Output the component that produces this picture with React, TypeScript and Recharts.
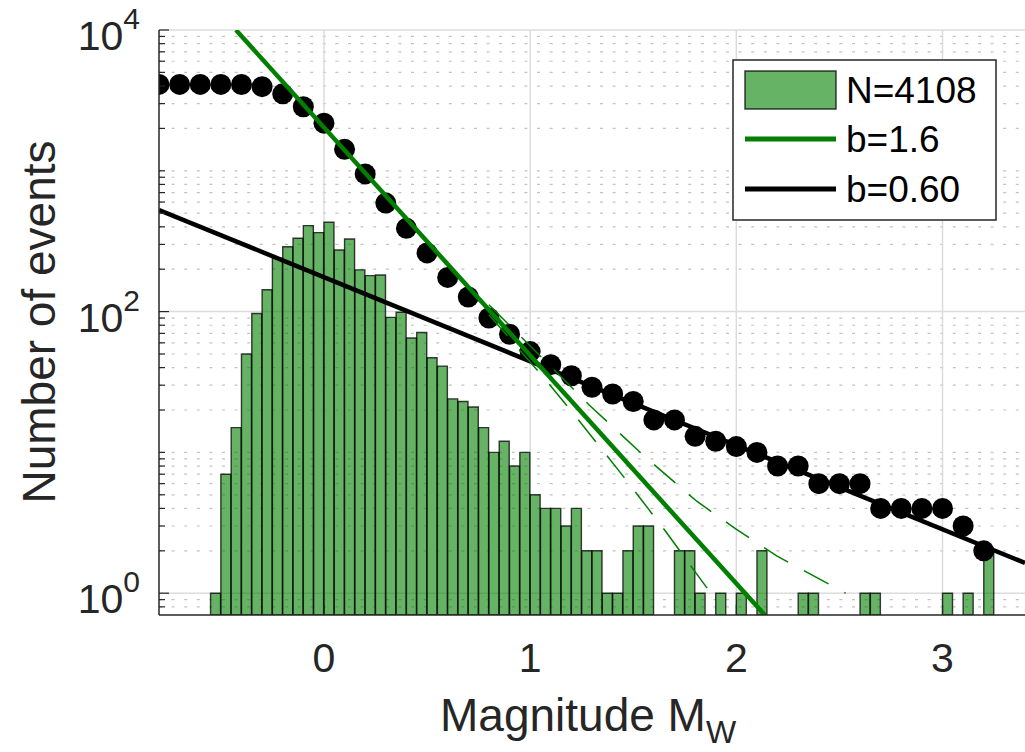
import React from 'react';
import { ComposedChart, Bar, Line, Scatter, XAxis, YAxis, ReferenceLine } from 'recharts';

// ---------- data ----------
const BIN_START = -0.8; // left edge of first histogram bin (= left edge of axis)
const BIN_WIDTH = 0.05;
const BIN_COUNTS = [
  0, 0, 0, 0, 0,
  1, 7, 15, 50, 97, 143, 239, 289, 332, 408, 364, 431, 274, 328, 198, 180, 182, 91, 99, 65,
  71, 47, 41, 24, 23, 21, 15, 10, 12, 8, 10, 5, 4, 4, 3, 4, 2, 2, 1, 1, 2, 3, 3,
  0, 0, 2, 2, 1, 0, 1, 0, 1, 0, 2, 0, 0, 0, 1, 1, 0, 0, 0, 0, 1, 1, 0, 0, 0, 0, 0, 0, 1, 0, 1, 0, 2, 0, 0, 0,
];

const CUM_M = [
  -0.8, -0.7, -0.6, -0.5, -0.4, -0.3, -0.2, -0.1, 0, 0.1, 0.2, 0.3, 0.4, 0.5, 0.6, 0.7, 0.8, 0.9, 1.0,
  1.1, 1.2, 1.3, 1.4, 1.5, 1.6, 1.7, 1.8, 1.9, 2.0, 2.1, 2.2, 2.3, 2.4, 2.5, 2.6, 2.7, 2.8, 2.9, 3.0, 3.1, 3.2,
];
const CUM_N = [
  4108, 4108, 4108, 4108, 4100, 3960, 3520, 2850, 2180, 1420, 950, 590, 390, 261, 175, 127, 90, 69, 52,
  42, 35, 29, 26, 23, 17, 17, 13, 12, 11, 10, 8, 8, 6, 6, 6, 4, 4, 4, 4, 3, 2,
];

const GREEN_FIT_M = [-0.427, 2.138];
const GREEN_FIT_N = [10000, 0.7];
const BLACK_FIT_M = [-0.8, 3.4];
const BLACK_FIT_N = [527, 1.64];
const UPPER_BOUND_M = [0.8, 1.285, 1.561, 1.808, 1.997, 2.196, 2.53];
const UPPER_BOUND_N = [112, 21.8, 9.2, 4.5, 2.86, 1.84, 1.0];
const LOWER_BOUND_M = [0.8, 1.076, 1.222, 1.454, 1.653, 1.876];
const LOWER_BOUND_N = [95, 32.7, 17.9, 6.7, 2.8, 1.0];

const X_TICKS = [0, 1, 2, 3];
const X_TICK_LABELS = ['0', '1', '2', '3'];
const Y_MAJOR = [1, 100, 10000];
const Y_MAJOR_EXP = ['0', '2', '4'];
const Y_MINOR = [
  0.8, 0.9, 2, 3, 4, 5, 6, 7, 8, 9, 10, 20, 30, 40, 50, 60, 70, 80, 90,
  200, 300, 400, 500, 600, 700, 800, 900, 1000, 2000, 3000, 4000, 5000, 6000, 7000, 8000, 9000,
];
const LEGEND_LABELS = ['N=4108', 'b=1.6', 'b=0.60'];
const X_LABEL = 'Magnitude M';
const X_LABEL_SUB = 'W';
const Y_LABEL = 'Number of events';

// ---------- tables built from the arrays ----------
const binTable = BIN_COUNTS.map((c, i) => ({
  bin: (BIN_START + i * BIN_WIDTH).toFixed(2),
  n: c > 0 ? c : null,
}));
const zip = (ms: number[], ns: number[]) => ms.map((m, i) => ({ m, n: ns[i] }));
const cumData = zip(CUM_M, CUM_N);
const greenFit = zip(GREEN_FIT_M, GREEN_FIT_N);
const blackFit = zip(BLACK_FIT_M, BLACK_FIT_N);
const upperBound = zip(UPPER_BOUND_M, UPPER_BOUND_N);
const lowerBound = zip(LOWER_BOUND_M, LOWER_BOUND_N);

const FONT = '"Liberation Sans", Arial, Helvetica, sans-serif';
const AX = '#262626';
const GREEN = '#007f00';

const YTick = (props: any) => {
  const { x, y, payload } = props;
  const v = payload.value;
  const mi = Y_MAJOR.indexOf(v);
  const major = mi >= 0;
  return (
    <g>
      <line x1={x} x2={x + (major ? 10 : 6)} y1={y} y2={y} stroke={AX} strokeWidth={1.2} />
      {major && (
        <text x={x - 19} y={y + 20} textAnchor="end" fill={AX} fontFamily={FONT}>
          <tspan fontSize={41}>10</tspan>
          <tspan fontSize={30} dy={-21}>{Y_MAJOR_EXP[mi]}</tspan>
        </text>
      )}
    </g>
  );
};

const XTick = (props: any) => {
  const { x, y, payload } = props;
  const i = X_TICKS.indexOf(payload.value);
  return (
    <g>
      <line x1={x} x2={x} y1={y} y2={y - 10} stroke={AX} strokeWidth={1.2} />
      <text x={x} y={y + 57} textAnchor="middle" fill={AX} fontFamily={FONT} fontSize={41}>
        {X_TICK_LABELS[i]}
      </text>
    </g>
  );
};

const Dot = (p: any) => <circle cx={p.cx} cy={p.cy} r={10.5} fill="#000" />;

export default function App() {
  return (
    <div style={{ position: 'absolute', left: 0, top: 0, width: 1025, height: 752 }}>
      <ComposedChart
        width={1025}
        height={752}
        data={binTable}
        margin={{ top: 30, right: 0, bottom: 0, left: 0 }}
        barCategoryGap={0}
        barGap={0}
      >
        <XAxis xAxisId="bins" dataKey="bin" type="category" hide />
        <XAxis
          dataKey="m"
          type="number"
          domain={[-0.8, 3.4]}
          allowDataOverflow
          ticks={X_TICKS}
          interval={0}
          height={137}
          tickSize={0}
          tickMargin={0}
          tick={<XTick />}
          tickLine={false}
          axisLine={{ stroke: AX, strokeWidth: 1.5 }}
        />
        <YAxis
          type="number"
          scale="log"
          domain={[0.7, 10000]}
          allowDataOverflow
          ticks={[...Y_MAJOR, ...Y_MINOR]}
          interval={0}
          width={159}
          tickSize={0}
          tickMargin={0}
          tick={<YTick />}
          tickLine={false}
          axisLine={{ stroke: AX, strokeWidth: 1.5 }}
        />
        {Y_MINOR.map((v) => (
          <ReferenceLine key={'ym' + v} y={v} stroke="#c2c2c2" strokeWidth={1.2} strokeDasharray="3 9.6" zIndex={-100} />
        ))}
        {Y_MAJOR.map((v) => (
          <ReferenceLine key={'yM' + v} y={v} stroke="#dcdcdc" strokeWidth={1.5} zIndex={-100} />
        ))}
        {X_TICKS.map((v) => (
          <ReferenceLine key={'xM' + v} x={v} stroke="#dcdcdc" strokeWidth={1.5} zIndex={-100} />
        ))}
        <Bar
          xAxisId="bins"
          dataKey="n"
          fill="#008000"
          fillOpacity={0.6}
          stroke="#000"
          strokeOpacity={0.75}
          strokeWidth={1.4}
          isAnimationActive={false}
        />
        <Scatter data={cumData} dataKey="n" shape={Dot} isAnimationActive={false} zIndex={350} />
        <Line data={blackFit} dataKey="n" stroke="#000" strokeWidth={4.5} dot={false} isAnimationActive={false} />
        <Line data={upperBound} dataKey="n" stroke={GREEN} strokeWidth={1.5} strokeDasharray="28 18" dot={false} isAnimationActive={false} />
        <Line data={lowerBound} dataKey="n" stroke={GREEN} strokeWidth={1.5} strokeDasharray="28 18" dot={false} isAnimationActive={false} />
        <Line data={greenFit} dataKey="n" stroke={GREEN} strokeWidth={4.5} dot={false} isAnimationActive={false} />
      </ComposedChart>
      <svg
        width={1025}
        height={752}
        style={{ position: 'absolute', left: 0, top: 0, pointerEvents: 'none' }}
        fontFamily={FONT}
      >
        <rect x={733} y={60} width={263} height={160} fill="#fff" stroke={AX} strokeWidth={1.5} />
        <rect x={745} y={71} width={91} height={38} fill="#008000" fillOpacity={0.6} stroke="#000" strokeOpacity={0.75} strokeWidth={1.5} />
        <text x={846} y={103} fontSize={37} fill="#000">{LEGEND_LABELS[0]}</text>
        <line x1={745} x2={836} y1={139} y2={139} stroke={GREEN} strokeWidth={5} />
        <text x={846} y={152} fontSize={37} fill="#000">{LEGEND_LABELS[1]}</text>
        <line x1={745} x2={836} y1={189} y2={189} stroke="#000" strokeWidth={5} />
        <text x={846} y={202} fontSize={37} fill="#000">{LEGEND_LABELS[2]}</text>
        <text x={440} y={731} fontSize={46} fill={AX}>
          {X_LABEL}
          <tspan fontSize={32} dy={12}>{X_LABEL_SUB}</tspan>
        </text>
        <text transform="translate(55,322) rotate(-90)" textAnchor="middle" fontSize={46} fill={AX}>
          {Y_LABEL}
        </text>
      </svg>
    </div>
  );
}
